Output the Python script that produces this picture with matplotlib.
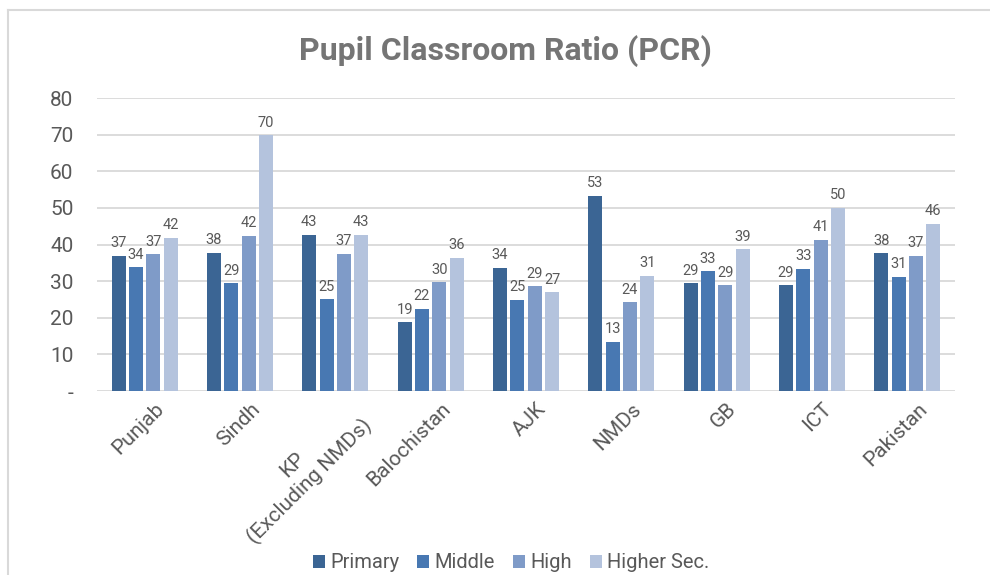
import matplotlib
matplotlib.use("Agg")
import matplotlib.pyplot as plt
from matplotlib.lines import Line2D
import matplotlib.transforms as mtrans
import numpy as np

plt.rcParams['font.family'] = ['Roboto', 'DejaVu Sans']

categories = ["Punjab", "Sindh", "KP\n(Excluding NMDs)", "Balochistan", "AJK",
              "NMDs", "GB", "ICT", "Pakistan"]
series_names = ["Primary", "Middle", "High", "Higher Sec."]
primary = [36.9, 37.8, 42.6, 18.8, 33.7, 53.3, 29.4, 28.9, 37.6]
middle = [33.8, 29.4, 25.0, 22.5, 24.9, 13.4, 32.7, 33.3, 31.2]
high = [37.3, 42.4, 37.4, 29.7, 28.6, 24.2, 28.9, 41.3, 36.9]
higher_sec = [41.9, 69.8, 42.7, 36.4, 26.9, 31.4, 38.7, 50.1, 45.7]
yticks = [0, 10, 20, 30, 40, 50, 60, 70, 80]
ytick_labels = ["-", "10", "20", "30", "40", "50", "60", "70", "80"]

colors = ["#3B6594", "#4878B2", "#7F9BC8", "#B4C3DD"]
text_gray = "#595959"

W, H = 990, 575
fig = plt.figure(figsize=(W / 100, H / 100), dpi=100)
ax = fig.add_axes([97 / W, 1 - 391 / H, (955 - 97) / W, (391 - 98) / H])

x = np.arange(len(categories))
step = 0.182
width = 0.148
all_series = [primary, middle, high, higher_sec]
for i, (vals, name, c) in enumerate(zip(all_series, series_names, colors)):
    bars = ax.bar(x + (i - 1.5) * step, vals, width=width, color=c, label=name, zorder=3)
    ax.bar_label(bars, labels=[f"{v:.0f}" for v in vals], padding=4,
                 fontsize=10.5, color=text_gray)

ax.set_xlim(-0.5, len(categories) - 0.5)
ax.set_ylim(0, 80)
ax.set_yticks(yticks)
ax.set_yticklabels(ytick_labels, fontsize=15, color=text_gray)
ax.tick_params(axis='y', length=0, pad=17)
ax.set_xticks(x)
ax.set_xticklabels(categories, rotation=45, ha='right', va='top',
                   rotation_mode='anchor', fontsize=15, color=text_gray,
                   multialignment='center')
ax.tick_params(axis='x', length=0, pad=6)
offset = mtrans.ScaledTranslation(10 / 100, 0, fig.dpi_scale_trans)
for lab in ax.get_xticklabels():
    lab.set_transform(lab.get_transform() + offset)
ax.grid(axis='y', color='#d9d9d9', linewidth=1.3, zorder=0)
for s in ax.spines.values():
    s.set_visible(False)

fig.text(505 / W, 1 - 51 / H, "Pupil Classroom Ratio (PCR)", ha='center', va='center',
         fontsize=23, fontweight='bold', color='#757575')

fig.legend(loc='center', bbox_to_anchor=(511 / W, 1 - 563 / H), ncol=4, frameon=False,
           fontsize=14.5, labelcolor=text_gray, handlelength=0.6, handleheight=0.6,
           handletextpad=0.25, columnspacing=0.9)

fig.add_artist(Line2D([8 / W, 1], [1 - 10 / H, 1 - 10 / H], transform=fig.transFigure,
                      color='#d9d9d9', linewidth=1.5))
fig.add_artist(Line2D([8 / W, 8 / W], [0, 1 - 10 / H], transform=fig.transFigure,
                      color='#d9d9d9', linewidth=1.5))

fig.savefig("out.png", dpi=100)
